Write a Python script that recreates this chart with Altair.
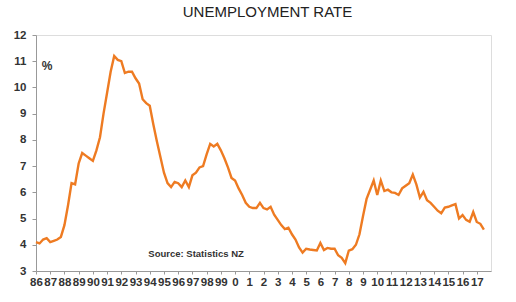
import altair as alt
import pandas as pd

# Quarterly unemployment rate (%), starting 1986 Q1
rate = [
    4.1, 4.05, 4.2, 4.25, 4.1, 4.15, 4.2, 4.3, 4.75, 5.5,
    6.35, 6.3, 7.1, 7.5, 7.4, 7.3, 7.2, 7.6, 8.1, 9.0,
    9.8, 10.6, 11.2, 11.05, 11.0, 10.55, 10.6, 10.6, 10.35, 10.15,
    9.55, 9.4, 9.3, 8.6, 7.95, 7.35, 6.75, 6.35, 6.2, 6.4,
    6.35, 6.2, 6.45, 6.2, 6.65, 6.75, 6.95, 7.0, 7.45, 7.85,
    7.75, 7.85, 7.6, 7.3, 6.95, 6.55, 6.45, 6.15, 5.9, 5.6,
    5.45, 5.4, 5.4, 5.6, 5.4, 5.35, 5.45, 5.15, 4.95, 4.75,
    4.6, 4.65, 4.4, 4.2, 3.9, 3.7, 3.85, 3.82, 3.8, 3.78,
    4.07, 3.8, 3.88, 3.85, 3.85, 3.6, 3.5, 3.3, 3.78, 3.83,
    4.0, 4.4, 5.1, 5.75, 6.1, 6.45, 5.9, 6.45, 6.05, 6.1,
    6.0, 5.98, 5.9, 6.15, 6.25, 6.35, 6.68, 6.3, 5.8, 6.02,
    5.7, 5.6, 5.45, 5.3, 5.2, 5.42, 5.45, 5.5, 5.55, 5.0,
    5.13, 4.95, 4.88, 5.25, 4.87, 4.8, 4.58,
]
start_year = 1986
tick_years = list(range(1986, 2018))
y_ticks = list(range(3, 13))

df = pd.DataFrame({
    "t": [start_year + i * 0.25 for i in range(len(rate))],
    "rate": rate,
})

x_scale = alt.Scale(domain=[1986, 2018], nice=False, zero=False)
y_scale = alt.Scale(domain=[3, 12], nice=False, zero=False)

x_axis = alt.Axis(values=tick_years, grid=False, tickSize=3, title=None,
                  labelPadding=2, labelFontSize=11.5, labelFontWeight="bold",
                  labelColor="#333", labelOverlap=False, labelFlush=False,
                  labelFont="Liberation Sans Narrow, Liberation Sans, sans-serif",
                  labelExpr="datum.value < 2000 ? toString(datum.value - 1900) : toString(datum.value - 2000)",
                  domainColor="#999", tickColor="#999")
y_axis = alt.Axis(values=y_ticks, grid=False, tickSize=4, labelOverlap=False, title=None,
                  labelPadding=6, labelFontSize=11.5, labelFontWeight="bold",
                  labelColor="#333", labelFont="Liberation Sans, sans-serif",
                  domainColor="#999", tickColor="#999")

line = alt.Chart(df).mark_line(color="#EE7B22", strokeWidth=2.4).encode(
    x=alt.X("t:Q", scale=x_scale, axis=x_axis, title=None),
    y=alt.Y("rate:Q", scale=y_scale, axis=y_axis, title=None),
)

pct = alt.Chart(pd.DataFrame({"t": [1986.4], "rate": [10.8], "s": ["%"]})).mark_text(
    align="left", baseline="middle", fontSize=12, fontWeight="bold", color="#333",
    font="Liberation Sans, sans-serif",
).encode(x=alt.X("t:Q", scale=x_scale, axis=x_axis, title=None),
         y=alt.Y("rate:Q", scale=y_scale, axis=y_axis, title=None), text="s:N")

src = alt.Chart(pd.DataFrame({"t": [1993.9], "rate": [3.55], "s": ["Source: Statistics NZ"]})).mark_text(
    align="left", baseline="alphabetic", fontSize=9.5, fontWeight="bold", color="#333",
    font="Liberation Sans Narrow, Liberation Sans, sans-serif",
).encode(x=alt.X("t:Q", scale=x_scale, axis=x_axis, title=None),
         y=alt.Y("rate:Q", scale=y_scale, axis=y_axis, title=None), text="s:N")

chart = alt.layer(line, pct, src).properties(
    width=455, height=236,
    title=alt.TitleParams("UNEMPLOYMENT RATE", fontSize=15, fontWeight="normal",
                          color="#222", font="Liberation Sans, sans-serif",
                          anchor="middle", offset=9, dx=4),
    autosize=alt.AutoSizeParams(type="none"),
    padding={"left": 36, "top": 35, "right": 25, "bottom": 31},
).configure_view(stroke="#aaa", strokeWidth=1.2).configure(background="white")

chart.save("out.html", embed_options={"renderer": "svg", "actions": False})
